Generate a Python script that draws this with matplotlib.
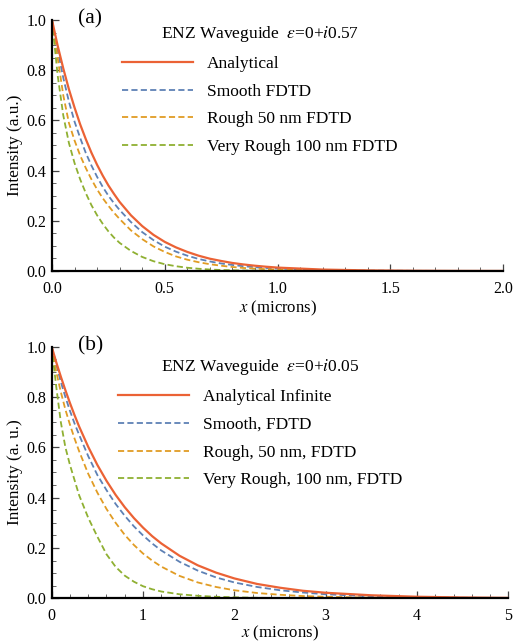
import matplotlib
matplotlib.use("Agg")
import matplotlib.pyplot as plt
from matplotlib.ticker import MultipleLocator, FormatStrFormatter

plt.rcParams['font.family'] = ['Liberation Serif', 'DejaVu Serif']
plt.rcParams['mathtext.fontset'] = 'stix'

# ---------------- Panel (a) data: eps = 0 + i0.57 ----------------
x_a = [0, 0.025, 0.05, 0.075, 0.1, 0.125, 0.15, 0.175, 0.2, 0.225, 0.25, 0.275, 0.3,
       0.35, 0.4, 0.45, 0.5, 0.55, 0.6, 0.65, 0.7, 0.75, 0.8, 0.85, 0.9, 0.95, 1.0,
       1.2, 1.4, 1.6, 1.8, 2.0]
analytical_a = [1.0, 0.898, 0.807, 0.724, 0.651, 0.584, 0.525, 0.471, 0.423, 0.380, 0.341, 0.307, 0.275,
                0.222, 0.179, 0.144, 0.116, 0.094, 0.076, 0.061, 0.049, 0.040, 0.032, 0.026, 0.021, 0.017, 0.0136,
                0.0057, 0.0024, 0.0010, 0.0004, 0.0002]
smooth_a = [1.0, 0.88, 0.77, 0.675, 0.595, 0.53, 0.47, 0.42, 0.375, 0.335, 0.30, 0.27, 0.243,
            0.195, 0.155, 0.123, 0.097, 0.077, 0.061, 0.048, 0.038, 0.030, 0.024, 0.019, 0.015, 0.012, 0.0095,
            0.0037, 0.0015, 0.0006, 0.0002, 0.0001]
rough_a = [1.0, 0.85, 0.70, 0.59, 0.52, 0.46, 0.41, 0.365, 0.325, 0.29, 0.26, 0.232, 0.207,
           0.162, 0.127, 0.098, 0.076, 0.058, 0.045, 0.035, 0.027, 0.021, 0.016, 0.012, 0.0095, 0.0073, 0.0056,
           0.002, 0.0007, 0.0002, 0.0001, 0.0]
very_rough_a = [1.0, 0.78, 0.62, 0.51, 0.43, 0.365, 0.31, 0.262, 0.222, 0.188, 0.158, 0.133, 0.112,
                0.080, 0.056, 0.039, 0.027, 0.019, 0.013, 0.009, 0.006, 0.004, 0.003, 0.002, 0.0015, 0.001, 0.0007,
                0.0002, 0.0001, 0.0, 0.0, 0.0]
labels_a = ["Analytical", "Smooth FDTD", "Rough 50 nm FDTD", "Very Rough 100 nm FDTD"]
title_a = "ENZ Waveguide  $\\varepsilon$=0+$i$0.57"

# ---------------- Panel (b) data: eps = 0 + i0.05 ----------------
x_b = [0, 0.05, 0.1, 0.15, 0.2, 0.25, 0.3, 0.4, 0.5, 0.6, 0.7, 0.8, 0.9, 1.0, 1.1, 1.2,
       1.4, 1.6, 1.8, 2.0, 2.25, 2.5, 2.75, 3.0, 3.5, 4.0, 4.5, 5.0]
analytical_b = [1.0, 0.938, 0.881, 0.827, 0.776, 0.728, 0.683, 0.602, 0.530, 0.467, 0.411, 0.362, 0.319, 0.281,
                0.247, 0.218, 0.169, 0.131, 0.102, 0.079, 0.057, 0.042, 0.030, 0.022, 0.012, 0.0062, 0.0033, 0.0017]
smooth_b = [1.0, 0.93, 0.86, 0.80, 0.745, 0.695, 0.65, 0.565, 0.49, 0.43, 0.375, 0.328, 0.286, 0.25,
            0.218, 0.19, 0.145, 0.11, 0.083, 0.063, 0.045, 0.032, 0.023, 0.016, 0.008, 0.004, 0.002, 0.001]
rough_b = [1.0, 0.90, 0.82, 0.75, 0.69, 0.635, 0.585, 0.495, 0.42, 0.355, 0.30, 0.252, 0.212, 0.178,
           0.15, 0.126, 0.089, 0.063, 0.045, 0.032, 0.021, 0.014, 0.009, 0.006, 0.0025, 0.001, 0.0005, 0.0002]
very_rough_b = [1.0, 0.84, 0.70, 0.60, 0.53, 0.47, 0.41, 0.32, 0.245, 0.175, 0.125, 0.09, 0.066, 0.048,
                0.036, 0.027, 0.016, 0.010, 0.006, 0.004, 0.002, 0.001, 0.0006, 0.0003, 0.0001, 0.0, 0.0, 0.0]
labels_b = ["Analytical Infinite", "Smooth, FDTD", "Rough, 50 nm, FDTD", "Very Rough, 100 nm, FDTD"]
title_b = "ENZ Waveguide  $\\varepsilon$=0+$i$0.05"

colors = ["#EB6235", "#5E81B5", "#E19C24", "#8FB032"]

fig = plt.figure(figsize=(5.16, 6.43), dpi=100)
ax_a = fig.add_axes([52 / 516, 1 - 271 / 643, 451 / 516, 251 / 643])
ax_b = fig.add_axes([51.7 / 516, 1 - 598.3 / 643, 456.6 / 516, 251.6 / 643])


def draw(ax, x, series, labels, title, xmax, xmajor, xminor, xfmt, ylabel, tag, leg_anchor, xlabelpad):
    for i, (y, lab) in enumerate(zip(series, labels)):
        if i == 0:
            ax.plot(x, y, color=colors[i], lw=1.6, label=lab, zorder=5)
        else:
            ax.plot(x, y, color=colors[i], lw=1.3, dashes=(3.4, 1.8), label=lab, zorder=4)
    ax.set_xlim(0, xmax)
    ax.set_ylim(0, 1.0)
    for s in ["top", "right"]:
        ax.spines[s].set_visible(False)
    for s in ["left", "bottom"]:
        ax.spines[s].set_linewidth(1.6)
        ax.spines[s].set_zorder(6)
    ax.xaxis.set_major_locator(MultipleLocator(xmajor))
    ax.xaxis.set_minor_locator(MultipleLocator(xminor))
    ax.xaxis.set_major_formatter(FormatStrFormatter(xfmt))
    ax.yaxis.set_major_locator(MultipleLocator(0.2))
    ax.yaxis.set_minor_locator(MultipleLocator(0.05))
    ax.yaxis.set_major_formatter(FormatStrFormatter("%.1f"))
    ax.tick_params(which="major", direction="in", length=5, width=0.9, color="#444444",
                   labelsize=11.5, pad=4)
    ax.tick_params(which="minor", direction="in", length=3, width=0.7, color="#666666")
    ax.tick_params(axis="x", which="major", pad=7)
    ax.set_xlabel("$x$ (microns)", fontsize=12, labelpad=xlabelpad)
    ax.set_ylabel(ylabel, fontsize=12.4, labelpad=2.5)
    ax.text(0.085, 1.005, tag, transform=ax.transAxes,
            fontsize=15.5, ha="center", va="center")
    leg = ax.legend(loc="upper left", bbox_to_anchor=leg_anchor, frameon=False,
                    fontsize=12.5, title=title, title_fontsize=12.5,
                    handlelength=4.1, handletextpad=0.8, labelspacing=0.67,
                    borderpad=0, borderaxespad=0)
    leg._legend_box.align = "center"


draw(ax_a, x_a, [analytical_a, smooth_a, rough_a, very_rough_a], labels_a, title_a,
     2.0, 0.5, 0.1, "%.1f", "Intensity (a.u.)", "(a)", (0.155, 0.984), 1.5)
draw(ax_b, x_b, [analytical_b, smooth_b, rough_b, very_rough_b], labels_b, title_b,
     5.0, 1, 0.2, "%d", "Intensity (a. u.)", "(b)", (0.145, 0.958), 0)

fig.savefig("out.png", dpi=100, facecolor="white")
